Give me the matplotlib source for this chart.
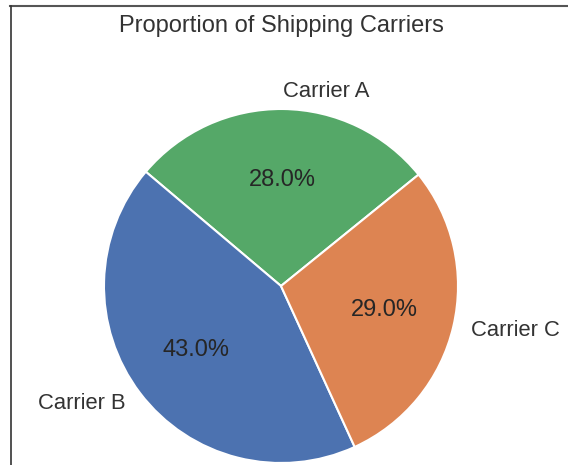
import matplotlib
matplotlib.use("Agg")
import matplotlib.pyplot as plt
from matplotlib.lines import Line2D

carriers = ["Carrier A", "Carrier B", "Carrier C"]
shares = [28.0, 43.0, 29.0]
colors = ["#55A868", "#4C72B0", "#DD8452"]

plt.rcParams["font.family"] = ["Liberation Sans", "DejaVu Sans"]

fig = plt.figure(figsize=(5.68, 4.65), dpi=100)
W, H = 568, 465
cx, cy, r = 281, 286, 177
ax = fig.add_axes([(cx - r) / W, (H - cy - r) / H, 2 * r / W, 2 * r / H])

wedges, texts, autotexts = ax.pie(
    shares,
    labels=carriers,
    colors=colors,
    autopct="%1.1f%%",
    startangle=39,
    wedgeprops=dict(edgecolor="white", linewidth=1.5),
    textprops=dict(color="#333333", fontsize=15.8),
)
for t in autotexts:
    t.set_fontsize(17)
    t.set_color("#262626")
ax.set_xlim(-1, 1)
ax.set_ylim(-1, 1)
ax.set_aspect("equal")

fig.text(cx / W, 1 - 26 / H, "Proportion of Shipping Carriers",
         ha="center", va="center", fontsize=17, color="#333333")

# frame lines along the top and left edges
fig.add_artist(Line2D([10 / W, 1], [1 - 6.5 / H, 1 - 6.5 / H],
                      transform=fig.transFigure, color="#555555", lw=1.5))
fig.add_artist(Line2D([10.5 / W, 10.5 / W], [0, 1 - 6.5 / H],
                      transform=fig.transFigure, color="#333333", lw=1.2))

fig.savefig("out.png", dpi=100)
